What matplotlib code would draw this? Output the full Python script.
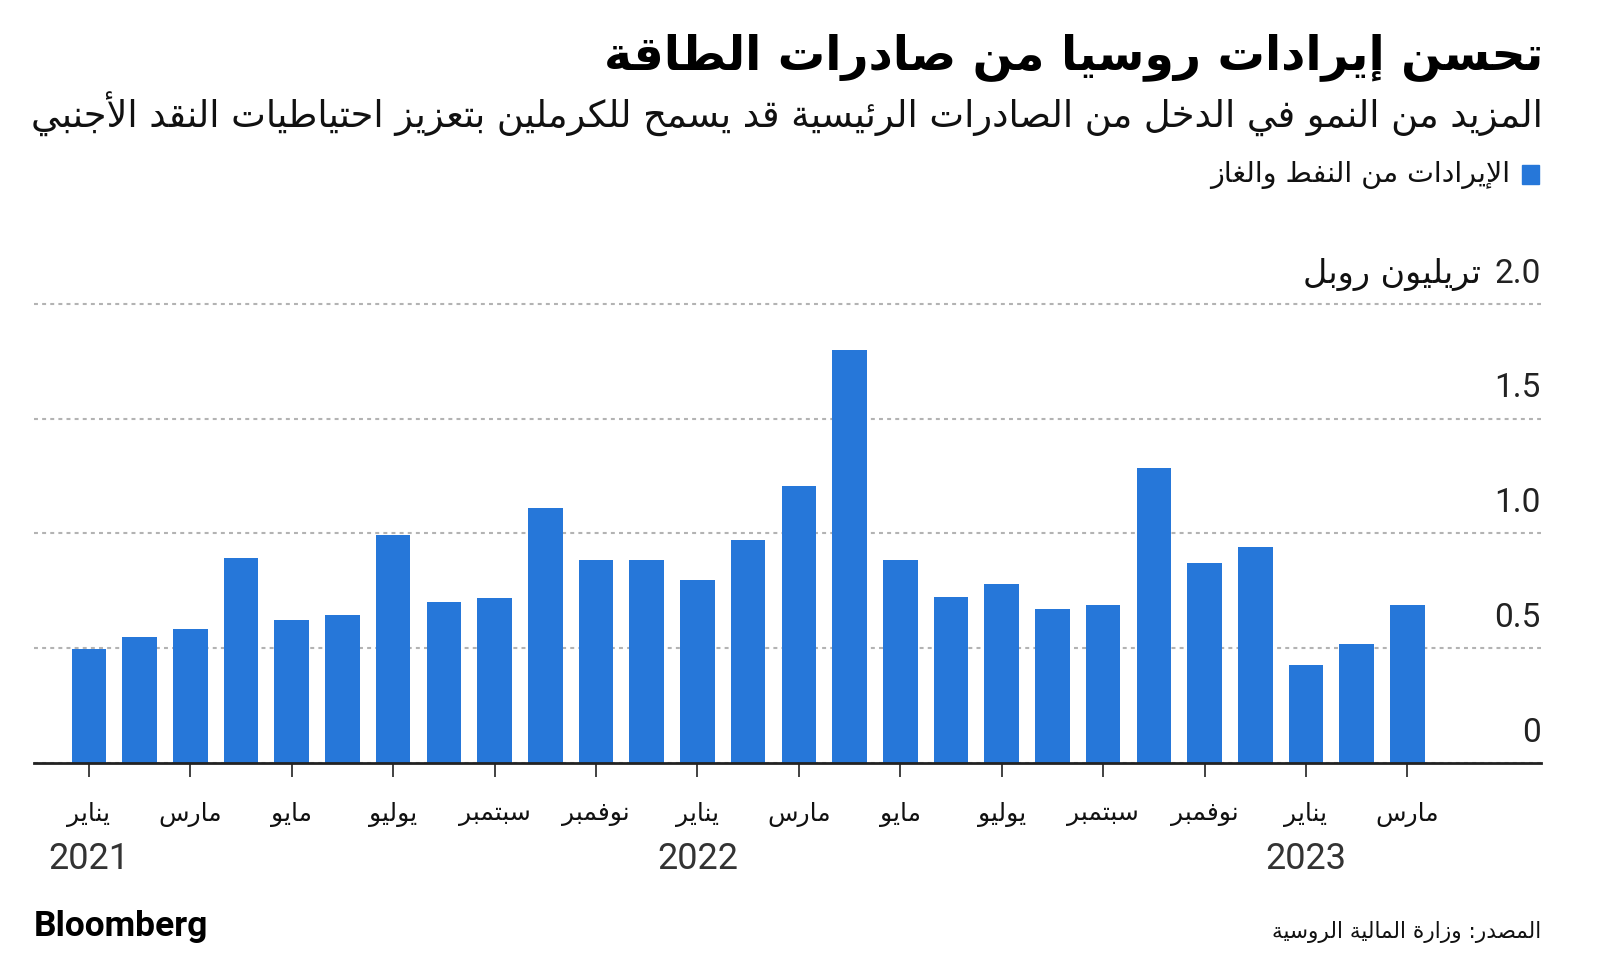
import matplotlib
matplotlib.use("Agg")
import matplotlib.pyplot as plt
from matplotlib.patches import Rectangle

# --- minimal Arabic shaping (matplotlib 3.10 has no shaping / bidi) ---
AR_LETTERS = "ءآأؤإئابةتثجحخدذرزسشصضطظعغفقكلمنهوىي"
AR_NFORMS = [1, 2, 2, 2, 2, 4, 2, 4, 2, 4, 4, 4, 4, 4, 2, 2, 2, 2, 4, 4,
             4, 4, 4, 4, 4, 4, 4, 4, 4, 4, 4, 4, 4, 2, 2, 4]
FORMS = {}
code = 0xFE80
for ch, n in zip(AR_LETTERS, AR_NFORMS):
    FORMS[ch] = [chr(code + k) for k in range(n)]
    code += n
LAM_ALEF = {"آ": 0xFEF5, "أ": 0xFEF7, "إ": 0xFEF9, "ا": 0xFEFB}


def dual(u):
    return u in FORMS and len(FORMS[u]) == 4


def joinable(u):
    return u == "LA" or (u in FORMS and len(FORMS[u]) >= 2)


def ar(text):
    units = []
    i = 0
    while i < len(text):
        c = text[i]
        if c == "ل" and i + 1 < len(text) and text[i + 1] in LAM_ALEF:
            units.append(("LA", text[i + 1]))
            i += 2
        else:
            units.append((c, None))
            i += 1
    out = []
    for k, (c, extra) in enumerate(units):
        prev = units[k - 1][0] if k > 0 else None
        nxt = units[k + 1][0] if k + 1 < len(units) else None
        if c == "LA":
            out.append(chr(LAM_ALEF[extra] + (1 if dual(prev) else 0)))
        elif c in FORMS:
            f = FORMS[c]
            jp = dual(prev) and len(f) >= 2
            jn = len(f) == 4 and joinable(nxt)
            if jp and jn:
                out.append(f[3])
            elif jp:
                out.append(f[1])
            elif jn:
                out.append(f[2])
            else:
                out.append(f[0])
        else:
            out.append(c)
    return "".join(reversed(out))


# --- data ---
title = "تحسن إيرادات روسيا من صادرات الطاقة"
subtitle = "المزيد من النمو في الدخل من الصادرات الرئيسية قد يسمح للكرملين بتعزيز احتياطيات النقد الأجنبي"
legend_label = "الإيرادات من النفط والغاز"
unit_label = "تريليون روبل"
source = "المصدر: وزارة المالية الروسية"

revenue = [0.495, 0.548, 0.583, 0.893, 0.625, 0.647, 0.994, 0.700, 0.721,
           1.113, 0.883, 0.883, 0.797, 0.970, 1.207, 1.800, 0.884, 0.722,
           0.779, 0.671, 0.689, 1.284, 0.872, 0.940, 0.429, 0.519, 0.689]
month_names = ["يناير", "مارس", "مايو", "يوليو", "سبتمبر", "نوفمبر"]
years = ["2021", "2022", "2023"]
yticks = [0, 0.5, 1.0, 1.5, 2.0]
ylabels = ["0", "0.5", "1.0", "1.5", "2.0"]

BLUE = "#2677d9"
AR_FONT = "DejaVu Sans"
NUM_FONT = "Roboto"

fig = plt.figure(figsize=(16, 9.66), dpi=100)
ax = fig.add_axes([0.021, 0.2101, 0.942, 0.48])

x = list(range(len(revenue)))
ax.bar(x, revenue, width=0.68, color=BLUE, zorder=2)
ax.set_xlim(-1.09, 28.63)
ax.set_ylim(0, 2.02)

ax.set_yticks(yticks)
ax.grid(axis="y", color="#b3b3b3", linestyle=(0, (1.9, 2.0)), linewidth=1.5)
ax.set_axisbelow(True)
ax.tick_params(axis="y", length=0, labelleft=False)
for s in ["top", "left", "right"]:
    ax.spines[s].set_visible(False)
ax.spines["bottom"].set_linewidth(2)
ax.spines["bottom"].set_color("#222222")

tick_pos = x[::2]
tick_labels = [ar(month_names[i % 6]) for i in range(len(tick_pos))]
ax.set_xticks(tick_pos, labels=tick_labels)
ax.tick_params(axis="x", length=10, width=1.3, color="#333333", pad=18,
               labelsize=18, labelcolor="#111111")
for lbl in ax.get_xticklabels():
    lbl.set_family(AR_FONT)

for v, lab in zip(yticks, ylabels):
    ax.annotate(lab, xy=(1, v), xycoords=("axes fraction", "data"),
                xytext=(0, 15.4), textcoords="offset points", ha="right",
                va="baseline", fontsize=24, family=NUM_FONT, color="#222222")
ax.annotate(ar(unit_label), xy=(1, 2.0), xycoords=("axes fraction", "data"),
            xytext=(-43, 15.4), textcoords="offset points", ha="right",
            va="baseline", fontsize=24, family=AR_FONT, color="#111111")

for i, yr in enumerate(years):
    ax.annotate(yr, xy=(i * 12, 0), xycoords=("data", "axes fraction"),
                xytext=(0, -69), textcoords="offset points", ha="center",
                va="center", fontsize=26, family=NUM_FONT, color="#333333")

fig.text(0.9643, 0.928, ar(title), ha="right", va="baseline", fontsize=34,
         fontweight="bold", family=AR_FONT, color="#000000")
fig.text(0.9643, 0.868, ar(subtitle), ha="right", va="baseline", fontsize=26.5,
         family=AR_FONT, color="#111111")
fig.patches.append(Rectangle((0.951, 0.810), 0.0108, 0.019, color=BLUE,
                             transform=fig.transFigure, figure=fig))
fig.text(0.944, 0.812, ar(legend_label), ha="right", va="baseline", fontsize=20.5,
         family=AR_FONT, color="#111111")
fig.text(0.021, 0.0306, "Bloomberg", ha="left", va="baseline", fontsize=25.5,
         fontweight="bold", family=NUM_FONT, color="#000000")
fig.text(0.963, 0.0285, ar(source), ha="right", va="baseline", fontsize=15.6,
         family=AR_FONT, color="#111111")

fig.savefig("out.png", dpi=100)
